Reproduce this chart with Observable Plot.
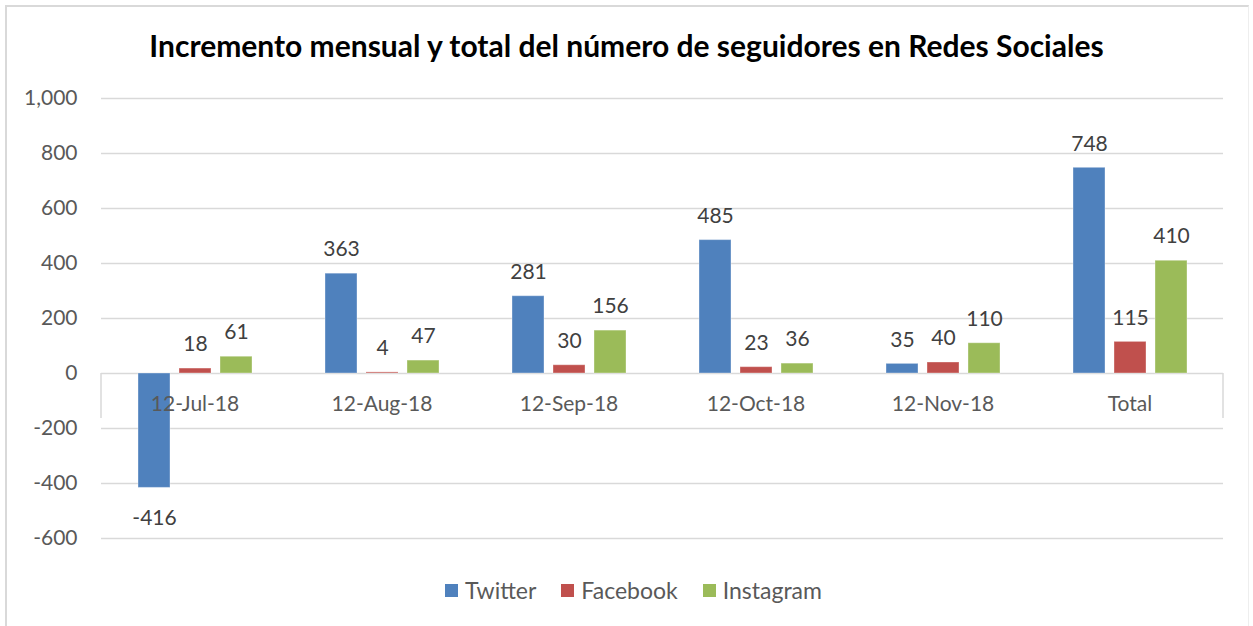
<!DOCTYPE html>
<html><head><meta charset="utf-8">
<script src="https://cdn.jsdelivr.net/npm/d3@7"></script>
<script src="https://cdn.jsdelivr.net/npm/@observablehq/plot@0.6"></script>
<style>
body{margin:0;background:#fff;font-family:Lato,sans-serif;}
#wrap{position:relative;width:1253px;height:626px;overflow:hidden;background:#fff;}
#frame{position:absolute;left:5px;top:5px;width:1244px;height:700px;border-top:2px solid #d9d9d9;border-left:2px solid #d9d9d9;border-right:1px solid #eeeeee;box-sizing:border-box;}
#title{position:absolute;left:0;width:1253px;top:26px;text-align:center;font-weight:700;font-size:30px;line-height:38px;color:#000;}
#chart{position:absolute;left:0;top:60px;}
#legend{position:absolute;top:575px;left:7px;width:1253px;display:flex;justify-content:center;align-items:center;font-size:23px;color:#595959;line-height:30px;}
.item{display:flex;align-items:center;margin-right:25px;}
.item:last-child{margin-right:0;}
.sw{width:13px;height:13px;margin-right:7px;}
</style></head>
<body>
<div id="wrap">
<div id="frame"></div>
<div id="title">Incremento mensual y total del número de seguidores en Redes Sociales</div>
<div id="chart"></div>
<div id="legend"></div>
</div>
<script>
const categories = ["12-Jul-18","12-Aug-18","12-Sep-18","12-Oct-18","12-Nov-18","Total"];
const series = ["Twitter","Facebook","Instagram"];
const twitter = [-416,363,281,485,35,748];
const facebook = [18,4,30,23,40,115];
const instagram = [61,47,156,36,110,410];
const colors = ["#4f81bd","#c0504d","#9bbb59"];
const yTicks = [-600,-400,-200,0,200,400,600,800,1000];

const values = [twitter, facebook, instagram];
const data = categories.flatMap((c,i)=>series.map((s,j)=>({cat:c, series:s, value:values[j][i]})));

const chart = Plot.plot({
  width:1253, height:500,
  marginLeft:100, marginRight:29, marginTop:38, marginBottom:22,
  fx:{domain:categories, padding:0, axis:null},
  x:{domain:series, paddingInner:0.23, paddingOuter:0.87, axis:null},
  y:{domain:[-600,1000], ticks:yTicks, tickFormat:d=>d.toLocaleString("en-US"), tickSize:0, tickPadding:24, label:null},
  color:{domain:series, range:colors},
  style:{fontFamily:"Lato, sans-serif", fontSize:"21px", color:"#595959", background:"transparent", overflow:"visible"},
  marks:[
    Plot.ruleY(yTicks, {stroke:"#d9d9d9", strokeWidth:1.5}),
    Plot.barY(data, {fx:"cat", x:"series", y:"value", fill:"series", stroke:"#ffffff", strokeOpacity:0.35, strokeWidth:1}),
    Plot.text(data.filter(d=>d.value>=0), {fx:"cat", x:"series", y:"value", text:d=>String(d.value), dy:-24, fontSize:21, fill:"#404040"}),
    Plot.text(data.filter(d=>d.value<0), {fx:"cat", x:"series", y:"value", text:d=>String(d.value), dy:30, fontSize:21, fill:"#404040"}),
    Plot.text(categories, {fx:d=>d, y:()=>0, text:d=>d, dy:31, fontSize:21, fill:"#595959"})
  ]
});
document.getElementById("chart").appendChild(chart);

// end ticks of the category axis
const ys = chart.scale("y"), fxs = chart.scale("fx");
const y0 = ys.apply(0);
const xL = fxs.apply(categories[0]);
const xR = fxs.apply(categories[categories.length-1]) + fxs.bandwidth;
const svg = d3.select(chart);
[xL, xR].forEach(x=>{
  svg.append("line").attr("x1",x).attr("x2",x).attr("y1",y0).attr("y2",y0+45)
    .attr("stroke","#d9d9d9").attr("stroke-width",1.5);
});

const leg = d3.select("#legend");
series.forEach((s,i)=>{
  const it = leg.append("div").attr("class","item");
  it.append("div").attr("class","sw").style("background",colors[i]);
  it.append("span").text(s);
});
</script>
</body></html>
